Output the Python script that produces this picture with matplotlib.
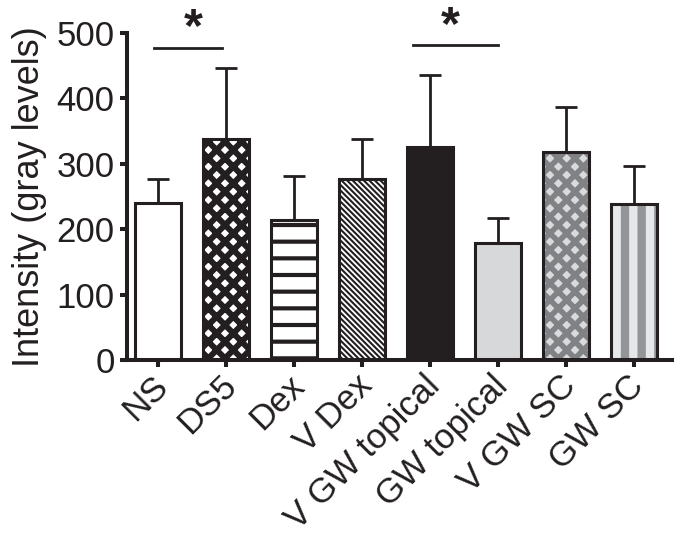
import matplotlib.pyplot as plt
import matplotlib as mpl
import matplotlib.transforms as mtransforms
import numpy as np

plt.rcParams['font.family'] = ['Liberation Sans', 'DejaVu Sans']

# data
groups = ['NS', 'DS5', 'Dex', 'V Dex', 'V GW topical', 'GW topical', 'V GW SC', 'GW SC']
means = [240, 338, 214, 276, 326, 179, 318, 239]
err_up = [36, 109, 68, 62, 110, 38, 69, 58]

# significance annotations: (x start, x end, y)
sig_lines = [(-0.06, 0.94, 477), (3.75, 5.0, 482)]
sig_stars = [(0.52, 487), (4.3, 491)]

# per-bar style: face, hatch, hatch colour, hatch width
faces = ['white', 'white', 'white', 'white', '#231f20', '#d7d8da', '#d9dadb', '#e6e7e8']
hatches = [None, 'xx', '-', '\\' * 6, None, None, 'xx', '|']
hatch_cols = ['black', '#231f20', '#231f20', '#231f20', '#231f20', '#231f20', '#808285', '#939598']
hatch_lw = [1, 4.3, 3.0, 1.5, 1, 1, 4.0, 6.0]

fig = plt.figure(figsize=(6.74, 5.41), dpi=100)
ax = fig.add_axes([127 / 674, 1 - 360 / 541, 545 / 674, 327 / 541])

x = np.arange(len(groups))
w = 0.68
for i in range(len(groups)):
    with mpl.rc_context({'hatch.linewidth': hatch_lw[i]}):
        b = ax.bar(x[i], means[i], width=w, color=faces[i], hatch=hatches[i],
                   edgecolor=hatch_cols[i], linewidth=0, zorder=2)
        for p in b:
            if hasattr(p, 'set_hatch_linewidth'):
                p.set_hatch_linewidth(hatch_lw[i])
ax.bar(x, means, width=w, fill=False, edgecolor='#231f20', linewidth=2.2, zorder=3)

ax.errorbar(x, means, yerr=[np.zeros(len(means)), err_up], fmt='none',
            ecolor='#231f20', elinewidth=2.0, capsize=8, capthick=2.0, zorder=1)

for x0, x1, y in sig_lines:
    ax.plot([x0, x1], [y, y], color='#231f20', lw=2.0, clip_on=False)
for sx, sy in sig_stars:
    ax.text(sx, sy, '*', ha='center', va='baseline', fontsize=35, fontweight='bold',
            color='#231f20', clip_on=False)

ax.set_xlim(-0.456, 7.56)
ax.set_ylim(0, 500)
ax.set_yticks([0, 100, 200, 300, 400, 500])
ax.set_xticks(x)
ax.set_xticklabels(groups, rotation=45, ha='right', va='center', rotation_mode='anchor')
ax.tick_params(axis='both', labelsize=25, width=2.9, length=5, color='#231f20',
               labelcolor='#231f20')
ax.tick_params(axis='x', pad=10)
ax.tick_params(axis='y', pad=4)
ax.set_ylabel('Intensity (gray levels)', fontsize=26, color='#231f20', labelpad=7)

# nudge the rotated labels a little to the right
shift = mtransforms.ScaledTranslation(5 / 100, 0, fig.dpi_scale_trans)
for lab in ax.get_xticklabels():
    lab.set_transform(lab.get_transform() + shift)

for s in ['top', 'right']:
    ax.spines[s].set_visible(False)
for s in ['left', 'bottom']:
    ax.spines[s].set_linewidth(2.9)
    ax.spines[s].set_color('#231f20')

fig.savefig('out.png', dpi=100)
